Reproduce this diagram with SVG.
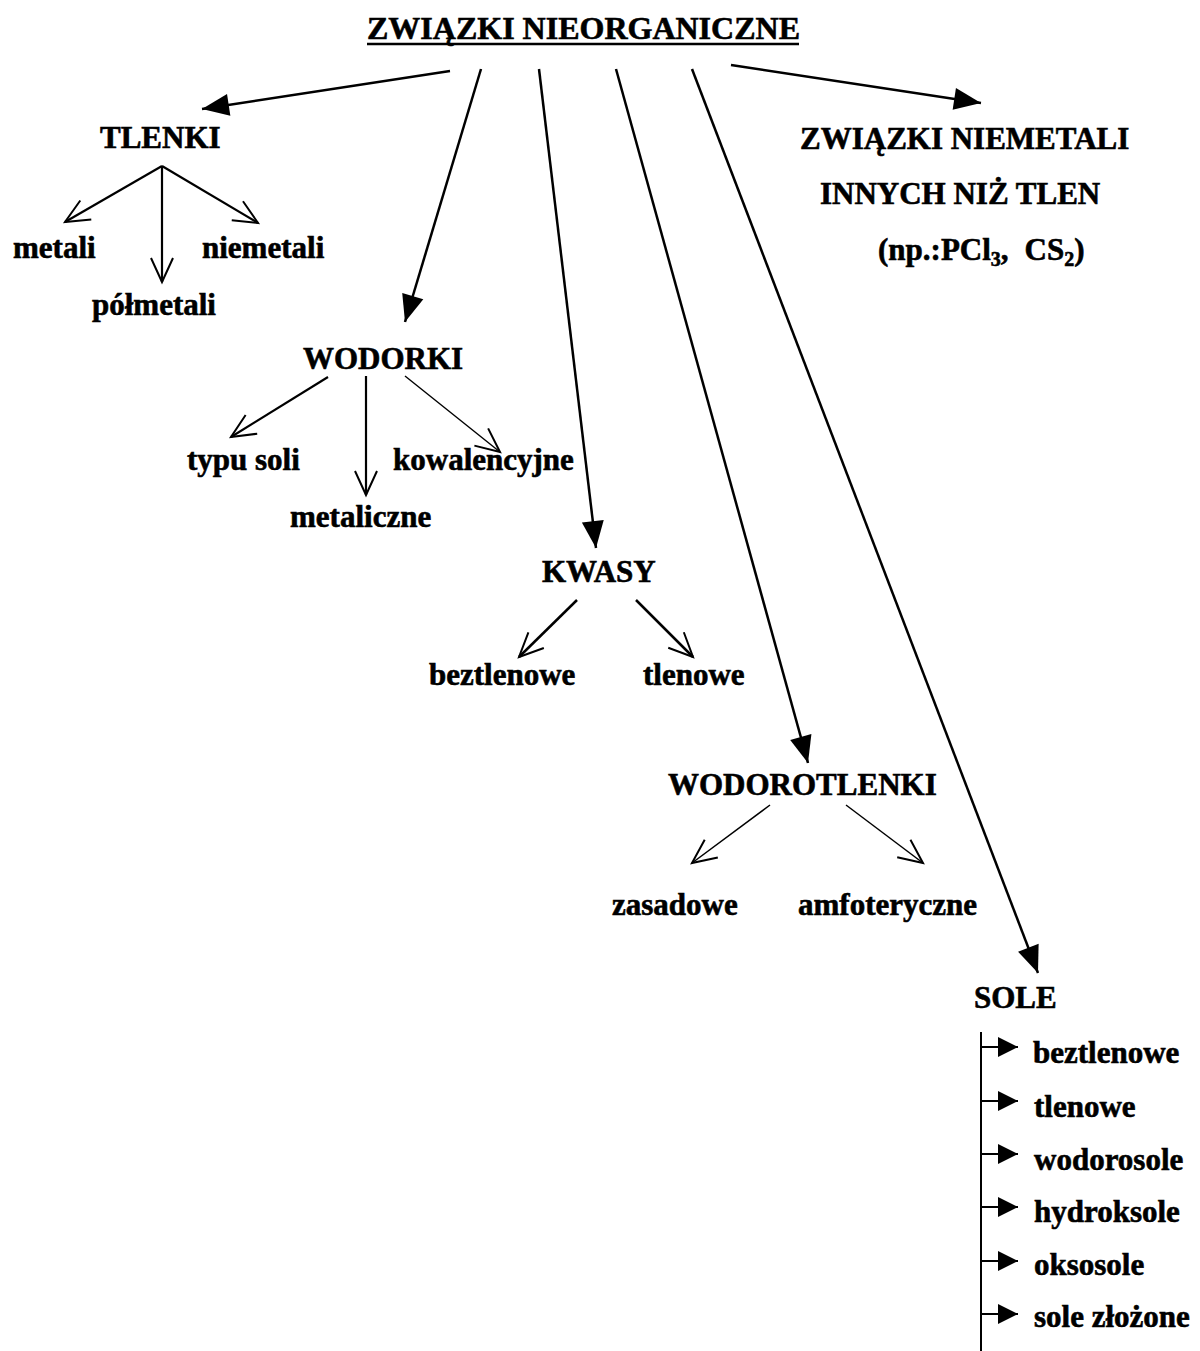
<svg xmlns="http://www.w3.org/2000/svg" width="1200" height="1351" viewBox="0 0 1200 1351">
<style>
text{font-family:"Liberation Serif","Times New Roman",serif;font-weight:bold;font-size:31px;fill:#000;stroke:#000;stroke-width:0.6}
.title{font-size:32px}
.sub{font-size:20px}
.main{stroke:#000;stroke-width:2.5;fill:none;marker-end:url(#fill)}
.open{stroke:#000;fill:none;marker-end:url(#open)}
.tick{stroke:#000;stroke-width:2;fill:none;marker-end:url(#small)}
</style>
<defs>
<marker id="fill" markerUnits="userSpaceOnUse" markerWidth="28" markerHeight="24" refX="27" refY="11" orient="auto" overflow="visible">
<path d="M0,0 L27,11 L0,22 Z" fill="#000"/>
</marker>
<marker id="open" markerUnits="userSpaceOnUse" markerWidth="26" markerHeight="24" refX="24" refY="11" orient="auto" overflow="visible">
<path d="M0,0 L24,11 L0,22" fill="none" stroke="#000" stroke-width="2"/>
</marker>
<marker id="small" markerUnits="userSpaceOnUse" markerWidth="21" markerHeight="21" refX="20" refY="10" orient="auto" overflow="visible">
<path d="M0,0 L20,10 L0,20 Z" fill="#000"/>
</marker>
</defs>
<rect width="1200" height="1351" fill="#fff"/>
<g id="title">
<text class="title" x="367" y="39">ZWIĄZKI NIEORGANICZNE</text>
<line x1="367" y1="44" x2="799" y2="44" stroke="#000" stroke-width="2.5"/>
</g>
<g id="connectors">
<line class="main" x1="450" y1="71" x2="202" y2="109"/>
<line class="main" x1="481" y1="69" x2="405" y2="322"/>
<line class="main" x1="539" y1="69" x2="596" y2="548"/>
<line class="main" x1="616" y1="69" x2="808" y2="763"/>
<line class="main" x1="692" y1="69" x2="1038" y2="973"/>
<line class="main" x1="731" y1="65" x2="981" y2="103"/>
<line class="open" stroke-width="2.2" x1="162" y1="166" x2="65" y2="222"/>
<line class="open" stroke-width="2.2" x1="162" y1="166" x2="162" y2="282"/>
<line class="open" stroke-width="2.2" x1="162" y1="166" x2="258" y2="223"/>
<line class="open" stroke-width="2.2" x1="328" y1="377" x2="231" y2="437"/>
<line class="open" stroke-width="2.2" x1="366" y1="376" x2="366" y2="495"/>
<line class="open" stroke-width="1.5" x1="405" y1="376" x2="500" y2="452"/>
<line class="open" stroke-width="2.5" x1="577" y1="600" x2="519" y2="657"/>
<line class="open" stroke-width="2.5" x1="636" y1="600" x2="693" y2="657"/>
<line class="open" stroke-width="1.5" x1="770" y1="805" x2="692" y2="863"/>
<line class="open" stroke-width="1.5" x1="846" y1="805" x2="923" y2="863"/>
<line x1="981" y1="1032" x2="981" y2="1351" stroke="#000" stroke-width="2"/>
<line class="tick" x1="981" y1="1047" x2="1018" y2="1047"/>
<line class="tick" x1="981" y1="1101" x2="1018" y2="1101"/>
<line class="tick" x1="981" y1="1154" x2="1018" y2="1154"/>
<line class="tick" x1="981" y1="1207" x2="1018" y2="1207"/>
<line class="tick" x1="981" y1="1261" x2="1018" y2="1261"/>
<line class="tick" x1="981" y1="1314" x2="1018" y2="1314"/>
</g>
<g id="tlenki"><text x="100" y="148">TLENKI</text></g>
<g id="tlenki-metali"><text x="13" y="258">metali</text></g>
<g id="tlenki-niemetali"><text x="202" y="258">niemetali</text></g>
<g id="tlenki-polmetali"><text x="92" y="315">półmetali</text></g>
<g id="wodorki"><text x="303" y="369">WODORKI</text></g>
<g id="wodorki-typu-soli"><text x="187" y="470">typu soli</text></g>
<g id="wodorki-kowalencyjne"><text x="393" y="470">kowalencyjne</text></g>
<g id="wodorki-metaliczne"><text x="290" y="527">metaliczne</text></g>
<g id="kwasy"><text x="542" y="582">KWASY</text></g>
<g id="kwasy-beztlenowe"><text x="429" y="685">beztlenowe</text></g>
<g id="kwasy-tlenowe"><text x="643" y="685">tlenowe</text></g>
<g id="wodorotlenki"><text x="668" y="795">WODOROTLENKI</text></g>
<g id="wodorotlenki-zasadowe"><text x="612" y="915">zasadowe</text></g>
<g id="wodorotlenki-amfoteryczne"><text x="798" y="915">amfoteryczne</text></g>
<g id="niemetale">
<text x="800" y="149">ZWIĄZKI NIEMETALI</text>
<text x="820" y="204">INNYCH NIŻ TLEN</text>
<text x="878" y="260">(np.:PCl<tspan class="sub" dy="6">3</tspan><tspan dy="-6">,</tspan><tspan dx="16">CS</tspan><tspan class="sub" dy="6">2</tspan><tspan dy="-6">)</tspan></text>
</g>
<g id="sole"><text x="974" y="1008">SOLE</text></g>
<g id="sole-beztlenowe"><text x="1033" y="1063">beztlenowe</text></g>
<g id="sole-tlenowe"><text x="1034" y="1117">tlenowe</text></g>
<g id="sole-wodorosole"><text x="1034" y="1170">wodorosole</text></g>
<g id="sole-hydroksole"><text x="1034" y="1222">hydroksole</text></g>
<g id="sole-oksosole"><text x="1034" y="1275">oksosole</text></g>
<g id="sole-zlozone"><text x="1034" y="1327">sole złożone</text></g>
</svg>
